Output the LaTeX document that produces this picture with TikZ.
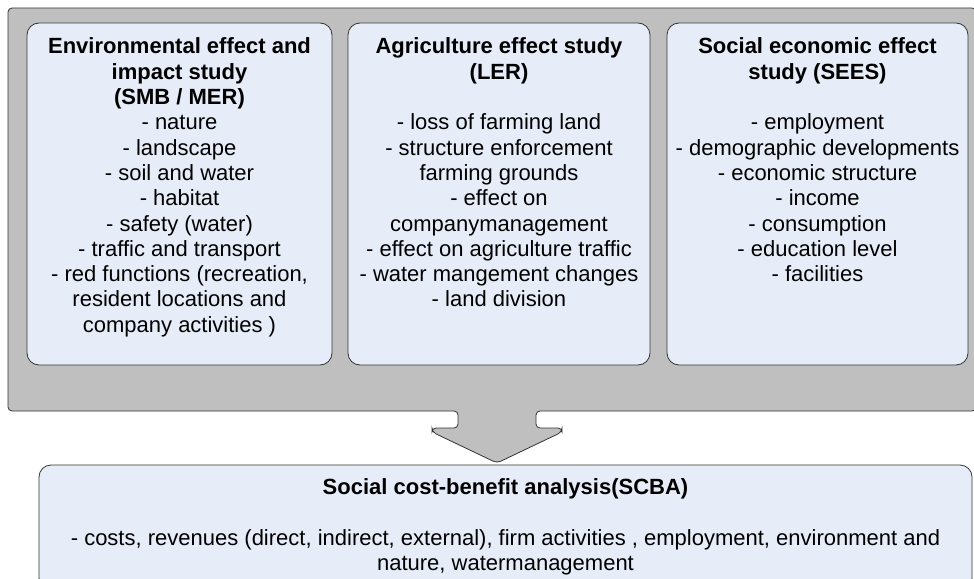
\documentclass[tikz,border=0pt]{standalone}
\usepackage{fontspec}
\setmainfont{Liberation Sans}
\usetikzlibrary{positioning}
\definecolor{panelblue}{RGB}{231,237,248}
\definecolor{framegray}{RGB}{191,191,191}

\begin{document}
\begin{tikzpicture}[x=1pt, y=-1pt, line width=0.8pt,
      every node/.append style={inner sep=0pt, font=\fontsize{22}{25.3}\selectfont},
      panel/.style={draw=black!80, fill=panelblue, rounded corners=12pt}]
    \tikzstyle{words} = [align=center, anchor=north, text=black]
    \useasboundingbox (0,0) rectangle (974,578);
    \draw[draw=black!80, fill=framegray, rounded corners=4pt]
      (8,8) -- (976,8) -- (976,411) -- (536,411) -- (536,428) -- (562,428) -- (562,432)
      -- (497,463) -- (432,432) -- (432,428) -- (458,428) -- (458,411) -- (8,411) -- cycle;
    \node (env) [panel, minimum width=305pt, minimum height=342pt] at (179.5,194) {};
    \node (agri) [panel, minimum width=302pt, minimum height=342pt] at (499,194) {};
    \node (sees) [panel, minimum width=301pt, minimum height=342pt] at (817.5,194) {};
    \node (scba) [panel, minimum width=933pt, minimum height=125pt] at (505.5,527.5) {};
    \node (envtext) [words, below=15pt of env.north] {\textbf{Environmental effect and}\\
      \textbf{impact study}\\ \textbf{(SMB / MER)}\\ - nature\\ - landscape\\ - soil and water\\
      - habitat\\ - safety (water)\\ - traffic and transport\\ - red functions (recreation,\\
      resident locations and\\ company activities )};
    \node (agritext) [words, below=15pt of agri.north] {\textbf{Agriculture effect study}\\
      \textbf{(LER)}\\[25.3pt] - loss of farming land\\ - structure enforcement\\ farming grounds\\
      - effect on\\ companymanagement\\ - effect on agriculture traffic\\
      - water mangement changes\\ - land division};
    \node (seestext) [words, below=15pt of sees.north] {\textbf{Social economic effect}\\
      \textbf{study (SEES)}\\[25.3pt] - employment\\ - demographic developments\\
      - economic structure\\ - income\\ - consumption\\ - education level\\ - facilities};
    \node (scbatext) [words, below=14pt of scba.north] {\textbf{Social cost-benefit analysis(SCBA)}\\[25.3pt]
      - costs, revenues (direct, indirect, external), firm activities , employment, environment and\\
      nature, watermanagement};
\end{tikzpicture}
\end{document}
